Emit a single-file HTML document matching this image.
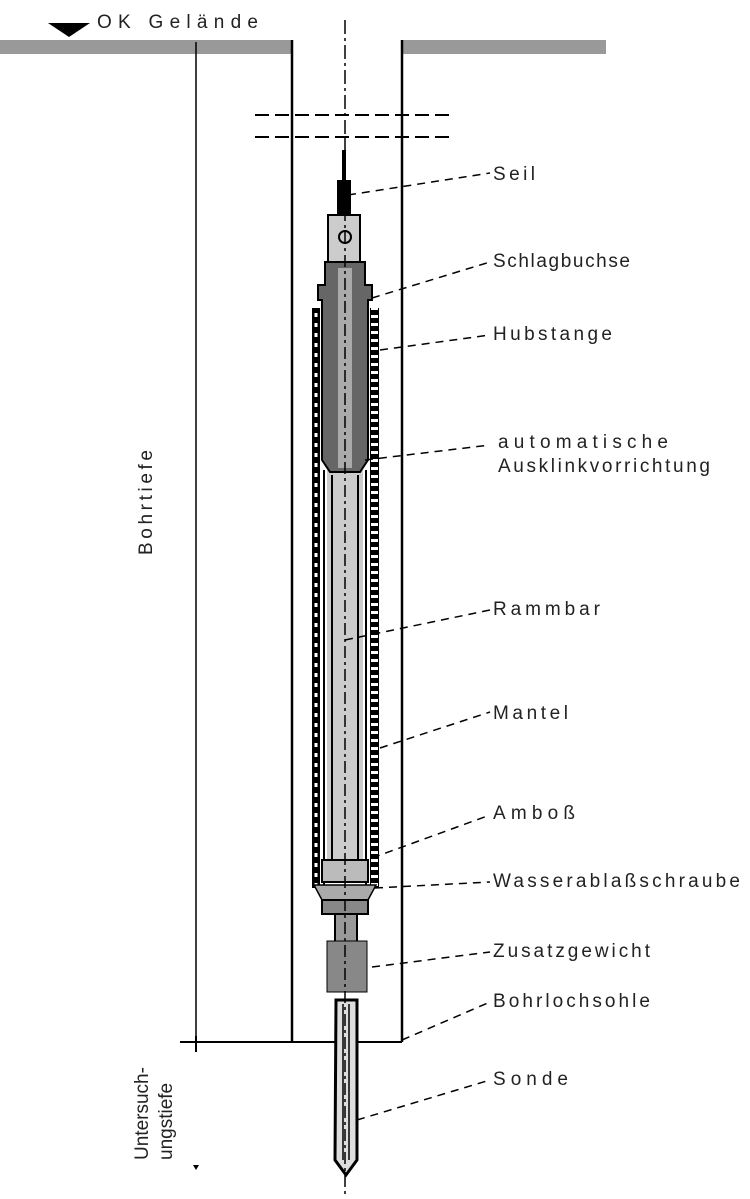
<!DOCTYPE html>
<html><head><meta charset="utf-8"><style>
html,body{margin:0;padding:0;background:#fff;width:750px;height:1199px;overflow:hidden}
svg{display:block}
text{font-family:"Liberation Sans",sans-serif;font-size:19px;fill:#222}
</style></head><body>
<svg width="750" height="1199" viewBox="0 0 750 1199" xmlns="http://www.w3.org/2000/svg">
<defs>
<pattern id="dots" x="0" y="0" width="8" height="10" patternUnits="userSpaceOnUse">
<rect width="8" height="10" fill="#000"/><rect x="2.5" y="3" width="3" height="4" fill="#fff"/>
</pattern>
<pattern id="comb" x="0" y="0" width="9" height="8" patternUnits="userSpaceOnUse">
<rect width="9" height="8" fill="#000"/><rect x="2" y="3" width="7" height="3" fill="#fff"/>
</pattern>
</defs>
<rect x="0" y="40" width="292" height="14" fill="#999"/>
<rect x="402" y="40" width="204" height="14" fill="#999"/>
<polygon points="48,23 90,23 69,37" fill="#000"/>
<text x="97" y="28" font-size="20" textLength="161" lengthAdjust="spacing">OK Gelände</text>
<line x1="292" y1="40" x2="292" y2="1042" stroke="#000" stroke-width="2.5"/>
<line x1="402" y1="40" x2="402" y2="1042" stroke="#000" stroke-width="2.5"/>
<line x1="196" y1="42" x2="196" y2="1045" stroke="#000" stroke-width="1.5"/>
<line x1="180" y1="1042" x2="336" y2="1042" stroke="#000" stroke-width="2"/>
<line x1="357" y1="1042" x2="402" y2="1042" stroke="#000" stroke-width="2"/>
<line x1="196" y1="1036" x2="196" y2="1052" stroke="#000" stroke-width="2"/>
<polygon points="193,1165 199,1165 196,1170" fill="#000"/>
<line x1="255" y1="115" x2="455" y2="115" stroke="#000" stroke-width="2" stroke-dasharray="14,6"/>
<line x1="255" y1="137" x2="455" y2="137" stroke="#000" stroke-width="2" stroke-dasharray="14,6"/>
<line x1="345" y1="20" x2="345" y2="140" stroke="#000" stroke-width="1.5" stroke-dasharray="14,4,3,4"/>
<rect x="337" y="180" width="14" height="80" fill="#000"/>
<rect x="342" y="150" width="4" height="40" fill="#000"/>
<rect x="328" y="215" width="32" height="50" fill="#ccc" stroke="#000" stroke-width="2"/>
<circle cx="345" cy="237" r="6" fill="none" stroke="#000" stroke-width="2"/>
<rect x="312" y="308" width="8" height="580" fill="url(#dots)"/>
<rect x="370" y="308" width="9" height="580" fill="url(#comb)"/>
<rect x="320" y="310" width="50" height="580" fill="#fff"/>
<line x1="324" y1="470" x2="324" y2="890" stroke="#000" stroke-width="2"/>
<line x1="366" y1="470" x2="366" y2="890" stroke="#000" stroke-width="2"/>
<rect x="327" y="470" width="36" height="390" fill="#ccc"/>
<line x1="332" y1="475" x2="332" y2="860" stroke="#000" stroke-width="2"/>
<line x1="358" y1="475" x2="358" y2="860" stroke="#000" stroke-width="2"/>
<path d="M325 262 H365 V285 H372 V300 H368 V460 L360 472 H330 L322 460 V300 H318 V285 H325 Z" fill="#666" stroke="#000" stroke-width="2"/>
<rect x="338" y="268" width="14" height="200" fill="#aaa"/>
<rect x="322" y="860" width="46" height="22" fill="#bbb" stroke="#000" stroke-width="2"/>
<path d="M314 885 H376 L368 900 H322 Z" fill="#aaa" stroke="#000" stroke-width="1.5"/>
<rect x="322" y="900" width="46" height="14" fill="#888" stroke="#000" stroke-width="2"/>
<rect x="335" y="914" width="22" height="28" fill="#999" stroke="#000" stroke-width="2"/>
<rect x="327" y="941" width="40" height="51" fill="#888" stroke="#000" stroke-width="1"/>
<path d="M336 1000 H357 V1160 L346 1175 L335 1160 Z" fill="#ddd" stroke="#000" stroke-width="3"/>
<line x1="343" y1="1004" x2="343" y2="1160" stroke="#000" stroke-width="1.5"/>
<line x1="349" y1="1004" x2="349" y2="1160" stroke="#000" stroke-width="1.5"/>
<line x1="345" y1="140" x2="345" y2="1195" stroke="#000" stroke-width="1.5" stroke-dasharray="12,4,3,4"/>
<g stroke="#000" stroke-width="1.5" stroke-dasharray="8,6" fill="none">
<line x1="348" y1="195" x2="490" y2="173"/>
<line x1="372" y1="298" x2="490" y2="262"/>
<line x1="380" y1="350" x2="490" y2="335"/>
<line x1="365" y1="460" x2="490" y2="445"/>
<line x1="345" y1="640" x2="490" y2="610"/>
<line x1="380" y1="748" x2="490" y2="712"/>
<line x1="372" y1="858" x2="490" y2="815"/>
<line x1="375" y1="888" x2="490" y2="882"/>
<line x1="372" y1="967" x2="490" y2="952"/>
<line x1="402" y1="1040" x2="490" y2="1002"/>
<line x1="357" y1="1120" x2="490" y2="1080"/>
</g>
<text x="493" y="180" textLength="42" lengthAdjust="spacing">Seil</text>
<text x="493" y="267" textLength="137" lengthAdjust="spacing">Schlagbuchse</text>
<text x="493" y="340" textLength="119" lengthAdjust="spacing">Hubstange</text>
<text x="498" y="448" textLength="170" lengthAdjust="spacing">automatische</text>
<text x="498" y="472" textLength="212" lengthAdjust="spacing">Ausklinkvorrichtung</text>
<text x="493" y="615" textLength="107" lengthAdjust="spacing">Rammbar</text>
<text x="493" y="719" textLength="75" lengthAdjust="spacing">Mantel</text>
<text x="493" y="819" textLength="82" lengthAdjust="spacing">Amboß</text>
<text x="493" y="887" textLength="247" lengthAdjust="spacing">Wasserablaßschraube</text>
<text x="493" y="957" textLength="157" lengthAdjust="spacing">Zusatzgewicht</text>
<text x="493" y="1007" textLength="157" lengthAdjust="spacing">Bohrlochsohle</text>
<text x="493" y="1085" textLength="75" lengthAdjust="spacing">Sonde</text>
<text transform="translate(152,555) rotate(-90)" font-size="17" textLength="105" lengthAdjust="spacing">Bohrtiefe</text>
<text transform="translate(148,1160) rotate(-90)" font-size="16">Untersuch-</text>
<text transform="translate(172,1160) rotate(-90)" font-size="16">ungstiefe</text>
</svg>
</body></html>
